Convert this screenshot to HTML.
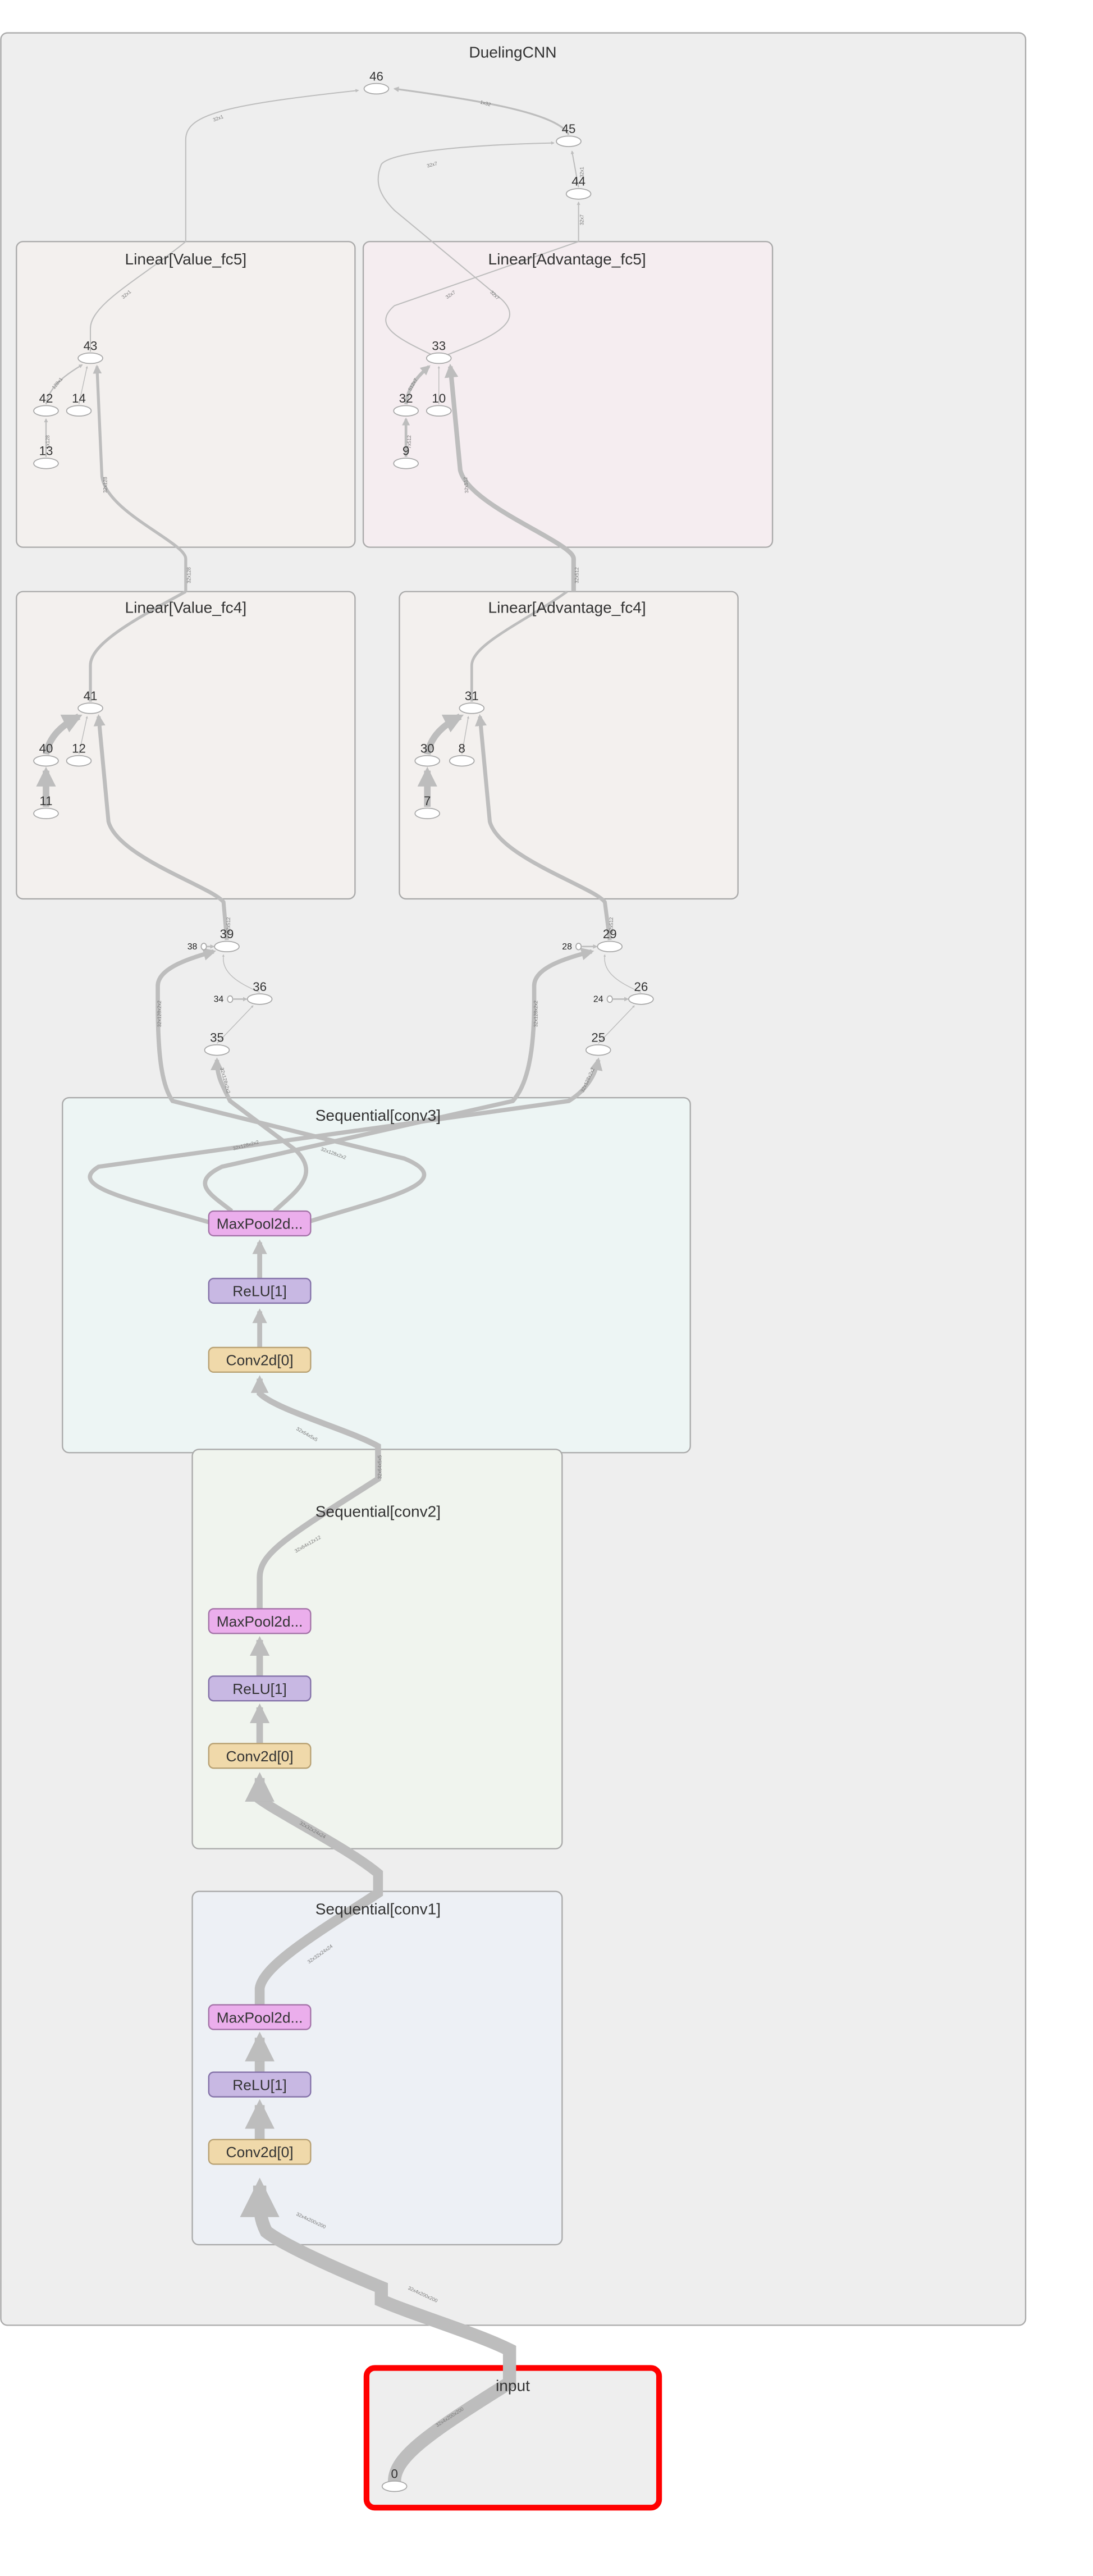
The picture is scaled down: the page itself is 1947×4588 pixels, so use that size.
<!DOCTYPE html>
<html><head><meta charset="utf-8"><style>
html,body{margin:0;padding:0;background:#fff;}
svg{display:block;font-family:"Liberation Sans",sans-serif;}
.g{fill:none;stroke:#bdbdbd;stroke-linecap:butt;}
.nd{fill:#fff;stroke:#a8a8a8;stroke-width:0.6;}
.nl{font-size:7.6px;fill:#333;text-anchor:middle;}
.sl{font-size:5.4px;fill:#222;text-anchor:end;}
.el{font-size:3px;fill:#777;}
.tt{font-size:9.6px;fill:#333;text-anchor:middle;}
.op{font-size:9px;fill:#333;text-anchor:middle;}
</style></head><body>
<svg width="1947" height="4588" viewBox="0 0 665 1567.6" preserveAspectRatio="none">
<defs>
<marker id="ar" viewBox="0 0 10 10" refX="8" refY="5" markerWidth="3" markerHeight="3" orient="auto"><path d="M0,0 L10,5 L0,10 z" fill="#bdbdbd"/></marker>
</defs>
<rect x="0.5" y="20" width="623.5" height="1395" rx="4" fill="#eeeeee" stroke="#aaaaaa" stroke-width="0.8"/>

<g><rect x="10" y="147" width="206" height="186" rx="4" fill="#f3f0ee" stroke="#aaaaaa" stroke-width="0.8"/></g>
<g><rect x="221" y="147" width="249" height="186" rx="4" fill="#f5edf0" stroke="#aaaaaa" stroke-width="0.8"/></g>
<g><rect x="10" y="360" width="206" height="187" rx="4" fill="#f3f0ee" stroke="#aaaaaa" stroke-width="0.8"/></g>
<g><rect x="243" y="360" width="206" height="187" rx="4" fill="#f3f0ee" stroke="#aaaaaa" stroke-width="0.8"/></g>
<g><rect x="38" y="668" width="382" height="216" rx="4" fill="#edf5f4" stroke="#aaaaaa" stroke-width="0.8"/></g>
<g><rect x="117" y="882" width="225" height="243" rx="4" fill="#f0f4ee" stroke="#aaaaaa" stroke-width="0.8"/></g>
<g><rect x="117" y="1151" width="225" height="215" rx="4" fill="#edf0f5" stroke="#aaaaaa" stroke-width="0.8"/></g>
<g><rect x="223" y="1441" width="178" height="85" rx="5" fill="#eeeeee" stroke="#ff0000" stroke-width="3.5"/></g>

<g>
<path class="g" stroke-width="0.7" marker-end="url(#ar)" d="M113,147 L113,85 C113,70 135,64 218,55"/>
<path class="g" stroke-width="1.1" marker-end="url(#ar)" d="M346,82 C340,70 300,62 240,54"/>
<path class="g" stroke-width="0.7" marker-end="url(#ar)" d="M352,114 L348,92"/>
<path class="g" stroke-width="0.7" marker-end="url(#ar)" d="M352,147 L352,123"/>
<path class="g" stroke-width="0.7" d="M263,216 C242,206 226,198 240,186 L352,147"/>
<path class="g" stroke-width="0.7" marker-end="url(#ar)" d="M272,216 C300,205 320,196 305,182 L240,128 C230,118 228,110 232,100 C238,92 290,88 337,87"/>
<path class="g" stroke-width="0.7" d="M55,214 L55,200 C55,185 85,170 113,147"/>
<path class="g" stroke-width="0.8" marker-end="url(#ar)" d="M28,246 C30,235 40,228 50,222"/>
<path class="g" stroke-width="0.5" marker-end="url(#ar)" d="M48,246 L53,223"/>
<path class="g" stroke-width="0.8" marker-end="url(#ar)" d="M28,278 L28,255"/>
<path class="g" stroke-width="2" marker-end="url(#ar)" d="M247,246 C248,236 254,229 261,223"/>
<path class="g" stroke-width="0.5" marker-end="url(#ar)" d="M267,246 L267,223"/>
<path class="g" stroke-width="1.6" marker-end="url(#ar)" d="M247,278 L247,255"/>
<path class="g" stroke-width="1.8" marker-end="url(#ar)" d="M113,360 L113,340 C113,330 65,312 62,290 L59,223"/>
<path class="g" stroke-width="2.8" marker-end="url(#ar)" d="M349,360 L349,340 C349,330 285,308 280,286 L274,223"/>
<path class="g" stroke-width="1.8" d="M55,427 L55,405 C55,392 80,378 113,360"/>
<path class="g" stroke-width="1.6" d="M287,427 L287,405 C287,392 320,378 345,360"/>
<path class="g" stroke-width="4" marker-end="url(#ar)" d="M28,459 C30,448 38,441 48,436"/>
<path class="g" stroke-width="0.5" marker-end="url(#ar)" d="M48,459 L53,436"/>
<path class="g" stroke-width="4" marker-end="url(#ar)" d="M28,491 L28,469"/>
<path class="g" stroke-width="4" marker-end="url(#ar)" d="M260,459 C262,448 270,441 280,436"/>
<path class="g" stroke-width="0.5" marker-end="url(#ar)" d="M281,459 L285,436"/>
<path class="g" stroke-width="4" marker-end="url(#ar)" d="M260,491 L260,469"/>
<path class="g" stroke-width="2.4" marker-end="url(#ar)" d="M138,572 L136,549 C130,540 72,522 66,500 L60,436"/>
<path class="g" stroke-width="2.4" marker-end="url(#ar)" d="M371,572 L368,549 C362,540 304,522 298,500 L292,436"/>
<path class="g" stroke-width="0.5" marker-end="url(#ar)" d="M158,604 C150,600 134,594 136,581"/>
<path class="g" stroke-width="0.5" marker-end="url(#ar)" d="M132,635 L154,612"/>
<path class="g" stroke-width="0.5" marker-end="url(#ar)" d="M390,604 C382,600 366,594 368,581"/>
<path class="g" stroke-width="0.5" marker-end="url(#ar)" d="M364,635 L386,612"/>
<path class="g" stroke-width="0.9" marker-end="url(#ar)" d="M126,576 L130,576"/>
<path class="g" stroke-width="0.9" marker-end="url(#ar)" d="M142,608 L150,608"/>
<path class="g" stroke-width="0.9" marker-end="url(#ar)" d="M354,576 L363,576"/>
<path class="g" stroke-width="0.9" marker-end="url(#ar)" d="M373,608 L382,608"/>
<path class="g" stroke-width="2.6" marker-end="url(#ar)" d="M128,744 C80,730 40,722 60,710 L346,670 C356,664 362,655 364,645"/>
<path class="g" stroke-width="2.6" marker-end="url(#ar)" d="M141,737 C130,728 114,720 135,710 L312,670 C321,660 325,640 325,610 L325,600 C325,590 340,584 360,579"/>
<path class="g" stroke-width="2.6" marker-end="url(#ar)" d="M167,737 C180,725 195,715 180,700 L140,670 C135,660 132,655 132,645"/>
<path class="g" stroke-width="2.6" marker-end="url(#ar)" d="M186,744 C230,730 282,720 246,705 L105,670 C98,660 96,640 96,610 L96,600 C96,590 112,584 130,579"/>
<path class="g" stroke-width="3" marker-end="url(#ar)" d="M158,778 L158,756"/>
<path class="g" stroke-width="3" marker-end="url(#ar)" d="M158,820 L158,798"/>
<path class="g" stroke-width="3.6" marker-end="url(#ar)" d="M158,979 L158,960 C158,945 175,935 230,900 L230,880 C212,870 168,858 158,848 L158,839"/>
<path class="g" stroke-width="4" marker-end="url(#ar)" d="M158,1020 L158,998"/>
<path class="g" stroke-width="4" marker-end="url(#ar)" d="M158,1061 L158,1039"/>
<path class="g" stroke-width="6" marker-end="url(#ar)" d="M158,1220 L158,1210 C160,1195 200,1172 230,1152 L230,1140 C212,1125 172,1105 158,1095 L158,1082"/>
<path class="g" stroke-width="6" marker-end="url(#ar)" d="M158,1261 L158,1240"/>
<path class="g" stroke-width="6" marker-end="url(#ar)" d="M158,1302 L158,1281"/>
<path class="g" stroke-width="8" marker-end="url(#ar)" d="M240,1510 C240,1495 262,1480 310,1450 L310,1430 C290,1420 250,1408 232,1400 L232,1392 C215,1385 175,1368 162,1358 C158,1350 158,1345 158,1330"/>
</g>

<g>
<text x="312" y="35" class="tt">DuelingCNN</text>
<text x="113" y="161" class="tt">Linear[Value_fc5]</text>
<text x="345" y="161" class="tt">Linear[Advantage_fc5]</text>
<text x="113" y="373" class="tt">Linear[Value_fc4]</text>
<text x="345" y="373" class="tt">Linear[Advantage_fc4]</text>
<text x="230" y="682" class="tt">Sequential[conv3]</text>
<text x="230" y="923" class="tt">Sequential[conv2]</text>
<text x="230" y="1165" class="tt">Sequential[conv1]</text>
<text x="312" y="1455" class="tt">input</text>
</g>

<g>
<text class="el" transform="translate(130,74) rotate(-20)">32x1</text>
<text class="el" transform="translate(292,63) rotate(15)">1x32</text>
<text class="el" transform="translate(260,102) rotate(-15)">32x7</text>
<text class="el" transform="translate(355,108) rotate(-90)">32x1</text>
<text class="el" transform="translate(355,137) rotate(-90)">32x7</text>
<text class="el" transform="translate(75,182) rotate(-40)">32x1</text>
<text class="el" transform="translate(272,182) rotate(-35)">32x7</text>
<text class="el" transform="translate(298,178) rotate(45)">32x7</text>
<text class="el" transform="translate(33,237) rotate(-50)">128x1</text>
<text class="el" transform="translate(30,273) rotate(-90)">1x128</text>
<text class="el" transform="translate(250,238) rotate(-60)">512x7</text>
<text class="el" transform="translate(250,273) rotate(-90)">7x512</text>
<text class="el" transform="translate(65,300) rotate(-90)">32x128</text>
<text class="el" transform="translate(285,300) rotate(-95)">32x512</text>
<text class="el" transform="translate(116,355) rotate(-90)">32x128</text>
<text class="el" transform="translate(352,355) rotate(-90)">32x512</text>
<text class="el" transform="translate(140,568) rotate(-90)">32x512</text>
<text class="el" transform="translate(373,568) rotate(-90)">32x512</text>
<text class="el" transform="translate(98,625) rotate(-90)">32x128x2x2</text>
<text class="el" transform="translate(327,625) rotate(-90)">32x128x2x2</text>
<text class="el" transform="translate(134,650) rotate(75)">32x128x2x2</text>
<text class="el" transform="translate(355,665) rotate(-65)">32x128x2x2</text>
<text class="el" transform="translate(142,700) rotate(-15)">32x128x2x2</text>
<text class="el" transform="translate(195,700) rotate(20)">32x128x2x2</text>
<text class="el" transform="translate(180,870) rotate(30)">32x64x5x5</text>
<text class="el" transform="translate(232,900) rotate(-90)">32x64x5x5</text>
<text class="el" transform="translate(180,945) rotate(-30)">32x64x12x12</text>
<text class="el" transform="translate(182,1110) rotate(30)">32x32x24x24</text>
<text class="el" transform="translate(188,1195) rotate(-35)">32x32x24x24</text>
<text class="el" transform="translate(180,1348) rotate(25)">32x4x200x200</text>
<text class="el" transform="translate(248,1393) rotate(25)">32x4x200x200</text>
<text class="el" transform="translate(266,1477) rotate(-33)">32x4x200x200</text>
</g>

<g>
<g><ellipse class="nd" cx="229" cy="54" rx="7.5" ry="3.2"/><text class="nl" x="229" y="49">46</text></g>
<g><ellipse class="nd" cx="346" cy="86" rx="7.5" ry="3.2"/><text class="nl" x="346" y="81">45</text></g>
<g><ellipse class="nd" cx="352" cy="118" rx="7.5" ry="3.2"/><text class="nl" x="352" y="113">44</text></g>
<g><ellipse class="nd" cx="55" cy="218" rx="7.5" ry="3.2"/><text class="nl" x="55" y="213">43</text></g>
<g><ellipse class="nd" cx="28" cy="250" rx="7.5" ry="3.2"/><text class="nl" x="28" y="245">42</text></g>
<g><ellipse class="nd" cx="48" cy="250" rx="7.5" ry="3.2"/><text class="nl" x="48" y="245">14</text></g>
<g><ellipse class="nd" cx="28" cy="282" rx="7.5" ry="3.2"/><text class="nl" x="28" y="277">13</text></g>
<g><ellipse class="nd" cx="267" cy="218" rx="7.5" ry="3.2"/><text class="nl" x="267" y="213">33</text></g>
<g><ellipse class="nd" cx="247" cy="250" rx="7.5" ry="3.2"/><text class="nl" x="247" y="245">32</text></g>
<g><ellipse class="nd" cx="267" cy="250" rx="7.5" ry="3.2"/><text class="nl" x="267" y="245">10</text></g>
<g><ellipse class="nd" cx="247" cy="282" rx="7.5" ry="3.2"/><text class="nl" x="247" y="277">9</text></g>
<g><ellipse class="nd" cx="55" cy="431" rx="7.5" ry="3.2"/><text class="nl" x="55" y="426">41</text></g>
<g><ellipse class="nd" cx="28" cy="463" rx="7.5" ry="3.2"/><text class="nl" x="28" y="458">40</text></g>
<g><ellipse class="nd" cx="48" cy="463" rx="7.5" ry="3.2"/><text class="nl" x="48" y="458">12</text></g>
<g><ellipse class="nd" cx="28" cy="495" rx="7.5" ry="3.2"/><text class="nl" x="28" y="490">11</text></g>
<g><ellipse class="nd" cx="287" cy="431" rx="7.5" ry="3.2"/><text class="nl" x="287" y="426">31</text></g>
<g><ellipse class="nd" cx="260" cy="463" rx="7.5" ry="3.2"/><text class="nl" x="260" y="458">30</text></g>
<g><ellipse class="nd" cx="281" cy="463" rx="7.5" ry="3.2"/><text class="nl" x="281" y="458">8</text></g>
<g><ellipse class="nd" cx="260" cy="495" rx="7.5" ry="3.2"/><text class="nl" x="260" y="490">7</text></g>
<g><ellipse class="nd" cx="138" cy="576" rx="7.5" ry="3.2"/><text class="nl" x="138" y="571">39</text></g>
<g><ellipse class="nd" cx="158" cy="608" rx="7.5" ry="3.2"/><text class="nl" x="158" y="603">36</text></g>
<g><ellipse class="nd" cx="132" cy="639" rx="7.5" ry="3.2"/><text class="nl" x="132" y="634">35</text></g>
<g><ellipse class="nd" cx="371" cy="576" rx="7.5" ry="3.2"/><text class="nl" x="371" y="571">29</text></g>
<g><ellipse class="nd" cx="390" cy="608" rx="7.5" ry="3.2"/><text class="nl" x="390" y="603">26</text></g>
<g><ellipse class="nd" cx="364" cy="639" rx="7.5" ry="3.2"/><text class="nl" x="364" y="634">25</text></g>
<g><ellipse class="nd" cx="124" cy="576" rx="1.6" ry="2"/><text class="sl" x="120" y="577.8">38</text></g>
<g><ellipse class="nd" cx="140" cy="608" rx="1.6" ry="2"/><text class="sl" x="136" y="609.8">34</text></g>
<g><ellipse class="nd" cx="352" cy="576" rx="1.6" ry="2"/><text class="sl" x="348" y="577.8">28</text></g>
<g><ellipse class="nd" cx="371" cy="608" rx="1.6" ry="2"/><text class="sl" x="367" y="609.8">24</text></g>
<g><ellipse class="nd" cx="240" cy="1513" rx="7.5" ry="3.2"/><text class="nl" x="240" y="1508">0</text></g>
</g>

<g>
<g><rect x="127" y="737" width="62" height="15" rx="3" fill="#ebaeec" stroke="#a473a8" stroke-width="0.8"/><text class="op" x="158" y="747.8">MaxPool2d...</text></g>
<g><rect x="127" y="778" width="62" height="15" rx="3" fill="#c8b8e3" stroke="#8371a8" stroke-width="0.8"/><text class="op" x="158" y="788.8">ReLU[1]</text></g>
<g><rect x="127" y="820" width="62" height="15" rx="3" fill="#f0d9aa" stroke="#b8a173" stroke-width="0.8"/><text class="op" x="158" y="830.8">Conv2d[0]</text></g>
<g><rect x="127" y="979" width="62" height="15" rx="3" fill="#ebaeec" stroke="#a473a8" stroke-width="0.8"/><text class="op" x="158" y="989.8">MaxPool2d...</text></g>
<g><rect x="127" y="1020" width="62" height="15" rx="3" fill="#c8b8e3" stroke="#8371a8" stroke-width="0.8"/><text class="op" x="158" y="1030.8">ReLU[1]</text></g>
<g><rect x="127" y="1061" width="62" height="15" rx="3" fill="#f0d9aa" stroke="#b8a173" stroke-width="0.8"/><text class="op" x="158" y="1071.8">Conv2d[0]</text></g>
<g><rect x="127" y="1220" width="62" height="15" rx="3" fill="#ebaeec" stroke="#a473a8" stroke-width="0.8"/><text class="op" x="158" y="1230.8">MaxPool2d...</text></g>
<g><rect x="127" y="1261" width="62" height="15" rx="3" fill="#c8b8e3" stroke="#8371a8" stroke-width="0.8"/><text class="op" x="158" y="1271.8">ReLU[1]</text></g>
<g><rect x="127" y="1302" width="62" height="15" rx="3" fill="#f0d9aa" stroke="#b8a173" stroke-width="0.8"/><text class="op" x="158" y="1312.8">Conv2d[0]</text></g>
</g>
</svg>
</body></html>
